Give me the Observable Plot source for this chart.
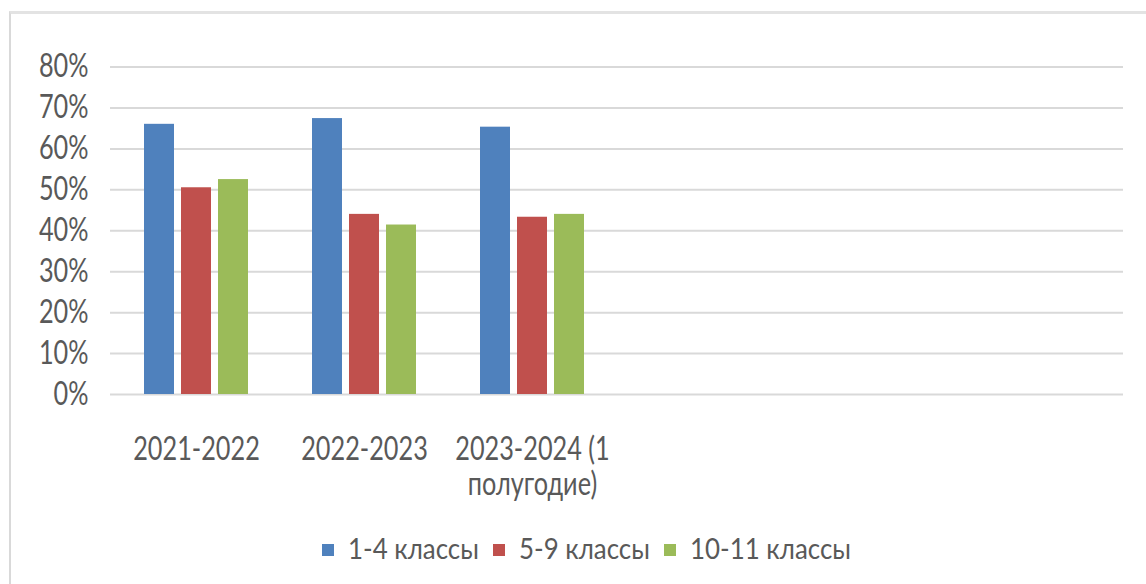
<!DOCTYPE html>
<html>
<head>
<meta charset="utf-8">
<script src="https://cdn.jsdelivr.net/npm/d3@7"></script>
<script src="https://cdn.jsdelivr.net/npm/@observablehq/plot@0.6"></script>
<style>
  html, body { margin: 0; padding: 0; background: #fff; overflow: hidden; width: 1146px; height: 584px; }
  #box { position: absolute; left: 9px; top: 11px; width: 1200px; height: 640px;
         border-left: 2px solid #d9d9d9; border-top: 3px solid #e3e3e3; box-sizing: border-box; }
  #chart { position: absolute; left: 0; top: 0; }
  #legend { position: absolute; left: 10px; width: 1153px; top: 531px; display: flex; justify-content: center;
            font-family: Lato, "Open Sans", sans-serif; font-size: 28px; color: #595959; white-space: nowrap; }
  .item { display: flex; align-items: center; margin: 0 7px; }
  .sw { width: 12px; height: 12px; margin-right: 14px; margin-top: 3px; }
  .lab { display: inline-block; transform-origin: 0 50%; }
</style>
</head>
<body>
<div id="box"></div>
<div id="chart"></div>
<div id="legend"></div>
<script>
// Data
const years = ["2021-2022", "2022-2023", "2023-2024 (1 полугодие)"];
const series = ["1-4 классы", "5-9 классы", "10-11 классы"];
const values14 = [0.660, 0.674, 0.653];
const values59 = [0.505, 0.440, 0.433];
const values1011 = [0.525, 0.414, 0.440];
const yTicks = [0, 0.1, 0.2, 0.3, 0.4, 0.5, 0.6, 0.7, 0.8];

// Styles
const colors = ["#4f81bd", "#c0504d", "#9bbb59"];
const offsets = [-37, 0, 37];
const font = "Lato, 'Open Sans', sans-serif";
const textSquash = 0.79;   // the reference tick text is horizontally condensed
const legendSquash = 0.925;

const seriesValues = [values14, values59, values1011];
const tables = seriesValues.map((vals, i) =>
  years.map((yr, j) => ({year: yr, series: series[i], value: vals[j]})));

const plot = Plot.plot({
  width: 1146,
  height: 510,
  marginLeft: 110,
  marginRight: 23,
  marginTop: 66.5,
  marginBottom: 116,
  style: {fontFamily: font, color: "#595959", background: "transparent", overflow: "visible"},
  x: {domain: years, range: [112, 616], paddingInner: 0.8214, paddingOuter: 0.4107, axis: null, label: null},
  y: {domain: [0, 0.8], axis: null, label: null},
  marks: [
    Plot.ruleY(yTicks, {stroke: "#d9d9d9", strokeWidth: 2}),
    ...tables.map((t, i) => Plot.barY(t, {x: "year", y: "value", fill: colors[i], dx: offsets[i]})),
    Plot.axisY({ticks: yTicks, label: null, tickFormat: d => Math.round(d * 100) + "%", tickSize: 0, tickPadding: 22,
                fontSize: 32, fill: "#595959"}),
    Plot.axisX({label: null, tickSize: 0, tickPadding: 40, fontSize: 32, lineHeight: 1.1, fill: "#595959",
                tickFormat: d => d.replace(" (1 ", " (1\n")})
  ]
});
document.getElementById("chart").appendChild(plot);

// condense tick label glyphs around their anchor point
plot.querySelectorAll('g[aria-label="y-axis tick label"] text, g[aria-label="x-axis tick label"] text').forEach(t => {
  const tr = t.getAttribute("transform") || "";
  t.setAttribute("transform", tr + ` scale(${textSquash} 1)`);
});

const legend = document.getElementById("legend");
series.forEach((s, i) => {
  const item = document.createElement("div");
  item.className = "item";
  const sw = document.createElement("div");
  sw.className = "sw";
  sw.style.background = colors[i];
  const label = document.createElement("span");
  label.className = "lab";
  label.textContent = s;
  item.appendChild(sw);
  item.appendChild(label);
  legend.appendChild(item);
  const w = label.getBoundingClientRect().width;
  label.style.transform = `scaleX(${legendSquash})`;
  label.style.marginRight = `${-w * (1 - legendSquash)}px`;
});
</script>
</body>
</html>
